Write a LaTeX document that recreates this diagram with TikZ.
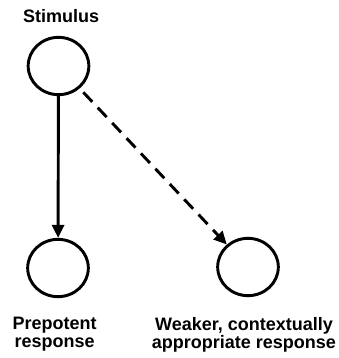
\documentclass[tikz,border=0pt]{standalone}
\usepackage{fontspec}
\setmainfont{Liberation Sans}
\usepackage{tikz}
\usetikzlibrary{arrows.meta}
\usetikzlibrary{shapes.geometric}
\tikzset{
unit/.style={shape=ellipse, draw=black, line width=2.2pt, minimum width=45.5pt, minimum height=43pt, inner sep=0pt},
txt/.style={font=\fontsize{13.5}{13.5}\selectfont\bfseries, align=center, inner sep=0pt},
link/.style={line width=2.2pt, -{Triangle[length=9.75pt, width=9pt]}}}

\begin{document}
\begin{tikzpicture}[x=0.75pt, y=-0.75pt]
                \useasboundingbox (0,0) rectangle (339,358);

                \node[unit, label={[txt, xshift=1.9pt, label distance=10pt]above:Stimulus}] (S) at (58.5,66) {};
                \node[unit, label={[txt, xshift=-2.6pt, label distance=14pt]below:{Prepotent\\response}}] (P) at (58,268) {};
                \node[unit, label={[txt, xshift=-3pt, label distance=15pt]below:{Weaker, contextually\\appropriate response}}] (W) at (248,267) {};

                \draw[link] (S) -- (P);
                \draw[link, dash pattern=on 9.75pt off 6pt, shorten <=4pt] (S) -- (W);

            \end{tikzpicture}
\end{document}
